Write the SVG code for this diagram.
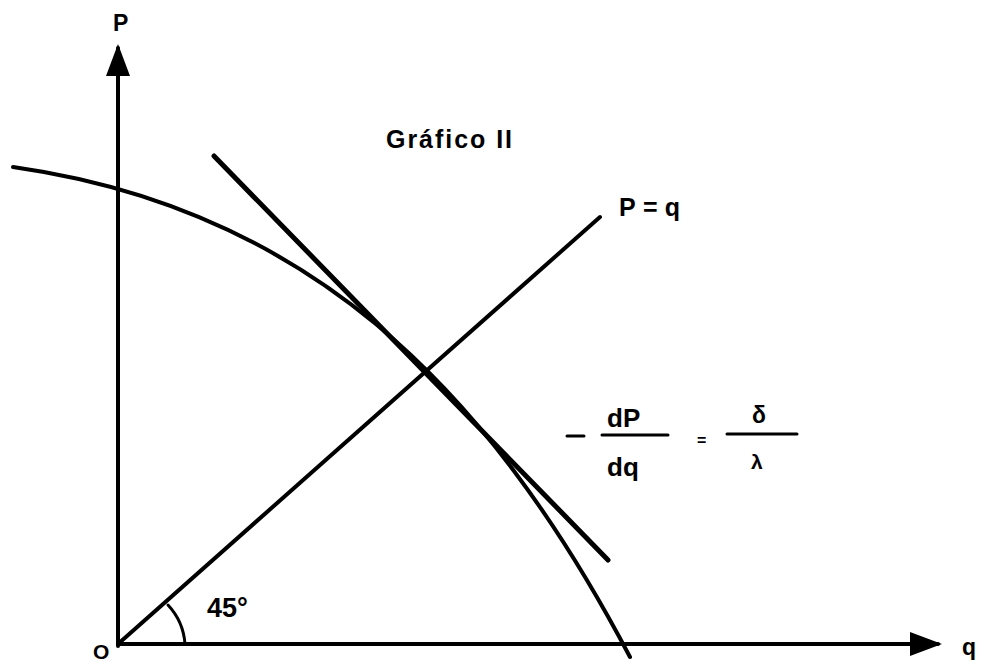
<svg xmlns="http://www.w3.org/2000/svg" width="984" height="665" viewBox="0 0 984 665">
<style>
.ln{fill:none;stroke:#000;stroke-width:4;stroke-linecap:round;stroke-linejoin:round}
.t{font-family:"Liberation Sans","DejaVu Sans",sans-serif;font-weight:bold;fill:#000}
</style>
<defs>
<marker id="ah" markerWidth="8" markerHeight="6" refX="7" refY="3" orient="auto" markerUnits="strokeWidth">
<path d="M0,0 L8,3 L0,6 z" fill="#000"/>
</marker>
</defs>
<rect width="984" height="665" fill="#fff"/>
<g id="connectors">
<line id="axis-p" class="ln" x1="118" y1="646" x2="118" y2="48" marker-end="url(#ah)"/>
<line id="axis-q" class="ln" x1="118" y1="644" x2="938" y2="644" marker-end="url(#ah)"/>
<line id="line-pq" class="ln" x1="118" y1="644" x2="600" y2="217"/>
<path id="curve" class="ln" d="M13,167 C303,208 485,381.5 630,657"/>
<line id="tangent" class="ln" style="stroke-width:5" x1="214" y1="156" x2="608" y2="560"/>
<path id="angle-arc" class="ln" style="stroke-width:3" d="M168,605 A64,64 0 0 1 185,644"/>
</g>
<g id="label-P"><text class="t" x="113" y="31" font-size="23">P</text></g>
<g id="label-q"><text class="t" x="962" y="655" font-size="23">q</text></g>
<g id="label-O"><text class="t" x="93" y="659" font-size="21">O</text></g>
<g id="title"><text class="t" x="386" y="148" font-size="25" textLength="126" lengthAdjust="spacing">Gráfico II</text></g>
<g id="label-Pq"><text class="t" x="619" y="216" font-size="25" textLength="61" lengthAdjust="spacing">P=q</text></g>
<g id="label-45"><text class="t" x="207" y="617" font-size="27">45°</text></g>
<g id="formula">
<line class="ln" style="stroke-width:3" x1="567" y1="436" x2="584" y2="436"/>
<text class="t" x="607" y="427" font-size="26">dP</text>
<line class="ln" style="stroke-width:3" x1="602" y1="435" x2="668" y2="435"/>
<text class="t" x="607" y="476" font-size="26">dq</text>
<text class="t" x="697" y="446" font-size="16">=</text>
<text class="t" x="752" y="423" font-size="23">δ</text>
<line class="ln" style="stroke-width:3" x1="727" y1="434" x2="797" y2="434"/>
<text class="t" x="751" y="469" font-size="21">λ</text>
</g>
</svg>
